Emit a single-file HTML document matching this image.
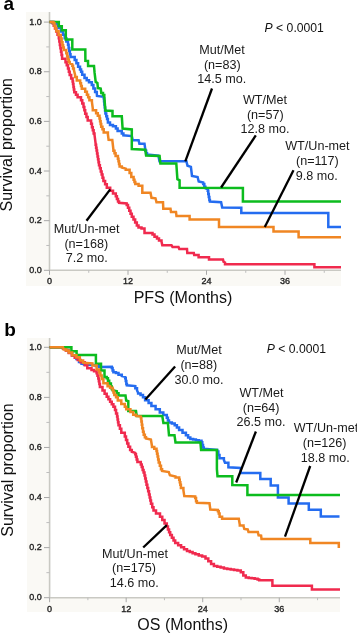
<!DOCTYPE html>
<html><head><meta charset="utf-8"><style>
html,body{margin:0;padding:0;background:#fff;width:357px;height:634px;overflow:hidden}
svg{display:block;font-family:"Liberation Sans", sans-serif;will-change:transform}
</style></head><body>
<svg width="357" height="634" viewBox="0 0 357 634" font-family='"Liberation Sans", sans-serif'>
<rect width="357" height="634" fill="#fff"/>
<path d="M26,12 H49.5 V270.3 H341 V286 H26 Z" fill="#faf9f5"/>
<path d="M49.5,12 V270.3 H341" fill="none" stroke="#c9c9c3" stroke-width="1.6"/>
<path d="M43.9,270.30 H49.5" stroke="#a8a8a8" stroke-width="1"/>
<text x="41.8" y="273.00" text-anchor="end" font-size="9" fill="#222" stroke="#222" stroke-width="0.35">0.0</text>
<path d="M46.3,245.48 H49.5" stroke="#bdbdbd" stroke-width="1"/>
<path d="M43.9,220.66 H49.5" stroke="#a8a8a8" stroke-width="1"/>
<text x="41.8" y="223.36" text-anchor="end" font-size="9" fill="#222" stroke="#222" stroke-width="0.35">0.2</text>
<path d="M46.3,195.84 H49.5" stroke="#bdbdbd" stroke-width="1"/>
<path d="M43.9,171.02 H49.5" stroke="#a8a8a8" stroke-width="1"/>
<text x="41.8" y="173.72" text-anchor="end" font-size="9" fill="#222" stroke="#222" stroke-width="0.35">0.4</text>
<path d="M46.3,146.20 H49.5" stroke="#bdbdbd" stroke-width="1"/>
<path d="M43.9,121.38 H49.5" stroke="#a8a8a8" stroke-width="1"/>
<text x="41.8" y="124.08" text-anchor="end" font-size="9" fill="#222" stroke="#222" stroke-width="0.35">0.6</text>
<path d="M46.3,96.56 H49.5" stroke="#bdbdbd" stroke-width="1"/>
<path d="M43.9,71.74 H49.5" stroke="#a8a8a8" stroke-width="1"/>
<text x="41.8" y="74.44" text-anchor="end" font-size="9" fill="#222" stroke="#222" stroke-width="0.35">0.8</text>
<path d="M46.3,46.92 H49.5" stroke="#bdbdbd" stroke-width="1"/>
<path d="M43.9,22.10 H49.5" stroke="#a8a8a8" stroke-width="1"/>
<text x="41.8" y="24.80" text-anchor="end" font-size="9" fill="#222" stroke="#222" stroke-width="0.35">1.0</text>
<path d="M49.50,270.3 V274.8" stroke="#a8a8a8" stroke-width="1"/>
<text x="49.50" y="284.1" text-anchor="middle" font-size="9" fill="#222" stroke="#222" stroke-width="0.35">0</text>
<path d="M88.75,270.3 V272.8" stroke="#bdbdbd" stroke-width="1"/>
<path d="M128.00,270.3 V274.8" stroke="#a8a8a8" stroke-width="1"/>
<text x="128.00" y="284.1" text-anchor="middle" font-size="9" fill="#222" stroke="#222" stroke-width="0.35">12</text>
<path d="M167.25,270.3 V272.8" stroke="#bdbdbd" stroke-width="1"/>
<path d="M206.50,270.3 V274.8" stroke="#a8a8a8" stroke-width="1"/>
<text x="206.50" y="284.1" text-anchor="middle" font-size="9" fill="#222" stroke="#222" stroke-width="0.35">24</text>
<path d="M245.75,270.3 V272.8" stroke="#bdbdbd" stroke-width="1"/>
<path d="M285.00,270.3 V274.8" stroke="#a8a8a8" stroke-width="1"/>
<text x="285.00" y="284.1" text-anchor="middle" font-size="9" fill="#222" stroke="#222" stroke-width="0.35">36</text>
<path d="M324.25,270.3 V272.8" stroke="#bdbdbd" stroke-width="1"/>
<path d="M49.5,21.9 L52.5,21.9 V23.22 H53.73 V25.85 H54.97 V28.48 H56.20 V29.80 V31.48 H57.50 V34.83 H58.80 V36.50 V38.18 H59.33 V41.55 H59.87 V44.92 H60.40 V46.60 V48.28 H60.97 V51.65 H61.53 V55.02 H62.10 V56.70 V58.80 H65.50 V60.90 V62.35 H66.75 V65.25 H68.00 V66.70 V68.40 H68.85 V71.80 H69.70 V73.50 V75.12 H71.15 V78.38 H72.60 V80.00 V81.38 H73.02 V84.12 H73.45 V86.88 H73.87 V89.62 H74.30 V91.00 V92.25 H75.95 V94.75 H77.60 V96.00 V97.25 H81.00 V98.50 V100.20 H82.25 V103.60 H83.50 V105.30 V106.97 H84.35 V110.32 H85.20 V112.00 V113.67 H86.45 V117.03 H87.70 V118.70 V120.40 H91.10 V122.10 V123.78 H91.95 V127.13 H92.80 V128.80 V130.35 H93.65 V133.45 H94.50 V135.00 L95.6,143.4 V144.84 H96.09 V147.73 H96.57 V150.61 H97.06 V153.50 H97.54 V156.39 H98.03 V159.27 H98.51 V162.16 H99.00 V163.60 V165.17 H99.88 V168.31 H100.76 V171.45 H101.64 V174.59 H102.52 V177.73 H103.40 V179.30 V180.98 H105.10 V184.33 H106.80 V186.00 V187.70 H110.20 V189.40 V190.80 H113.00 V193.60 H115.80 V195.00 V196.30 H116.90 V198.90 H118.00 V201.50 H119.10 V202.80 L126.7,203.4 V204.88 H127.98 V207.82 H129.25 V210.77 H130.53 V213.72 H131.80 V215.20 V216.66 H133.48 V219.59 H135.15 V222.51 H136.83 V225.44 H138.50 V226.90 V227.43 H141.50 V228.48 H144.50 V229.00 L144.5,233 L152.5,233 V234.50 H154.50 V236.00 V236.75 H157.00 V237.50 V238.50 H159.00 V239.50 V240.50 H161.50 V241.50 L162.3,245.3 L171.5,245.3 L172.5,247 L178.5,247 L179.3,249 L187,249 L187.3,253 L193.8,253 L194.2,255.1 L198.6,255.1 L198.6,257.3 L209,257.3 L209,259.6 L223,259.6 L223.6,261.8 L225,262.5 L225,264.3 L314.4,264.3 L314.4,267.3 L341,267.3" fill="none" stroke="#f02a4e" stroke-width="2.5" stroke-linejoin="miter"/>
<path d="M49.5,21.9 L54,21.9 V23.95 H58.00 V26.00 V28.00 H61.00 V30.00 V31.55 H63.00 V33.10 V34.78 H64.67 V38.15 H66.33 V41.52 H68.00 V43.20 V44.78 H68.62 V47.93 H69.25 V51.08 H69.88 V54.23 H70.50 V55.80 V57.05 H74.70 V58.30 V59.97 H76.40 V63.32 H78.10 V65.00 V66.70 H80.00 V68.40 V69.53 H81.10 V71.78 H82.20 V72.90 V74.85 H84.50 V76.80 V77.95 H86.70 V79.10 V80.20 H89.00 V81.30 V82.15 H91.80 V83.00 V84.95 H93.40 V86.90 V88.60 H95.10 V90.30 V92.00 H96.80 V93.70 L97,96 L103.7,96.8 V98.32 H104.04 V101.36 H104.38 V104.40 H104.72 V107.44 H105.06 V110.48 H105.40 V112.00 V113.40 H106.23 V116.20 H107.07 V119.00 H107.90 V120.40 V122.40 H110.00 V124.40 V125.03 H112.95 V126.28 H115.90 V126.90 V128.60 H117.60 V130.30 V131.10 H121.80 V131.90 V133.60 H123.40 V135.30 L131.8,136.1 L132.7,140.3 L138.6,140.3 L139.4,143.7 L144.5,143.7 L145.3,149.6 V150.85 H146.15 V153.35 H147.00 V154.60 L158.4,155.7 L159.5,161.3 L186.4,161.3 L187.5,165.8 L190.9,166.9 L192,175.9 L197.6,177 L198.7,181.5 L203.2,182.6 V184.00 H204.30 V186.80 H205.40 V188.20 L207.7,189.3 V190.84 H208.25 V193.91 H208.80 V196.99 H209.35 V200.06 H209.90 V201.60 L221.1,202.3 L222.2,207.4 L241.3,207.7 L241.3,213 L328.3,213 L328.3,227 L341,227" fill="none" stroke="#246cf0" stroke-width="2.5" stroke-linejoin="miter"/>
<path d="M49.5,21.9 L58.8,21.9 L58.8,26.2 L61.8,26.2 L61.8,30.3 L65.8,30.3 L65.8,39.4 L72.3,39.4 L72.3,49.6 L85.3,49.6 L85.4,60.9 L88,61 L88.1,66 L94,66 L94.6,72.9 L95.7,81.9 L97.4,83 L97.9,88.1 L100.7,88.6 L101.3,92.5 V93.10 H103.00 V93.70 V95.10 H104.30 V96.50 L105.4,110.6 L112.5,110.9 L112.5,116.3 L121.8,116.3 L122.6,128.6 L131.8,129.4 L131.8,149 L145.3,149.8 L146.1,155.5 L159.6,156 L160.4,163.5 L176.3,163.5 L177.4,179.2 L179.6,180.3 L179.6,187.8 L242.9,188 L242.9,201.4 L341,201.4" fill="none" stroke="#0cbc1e" stroke-width="2.5" stroke-linejoin="miter"/>
<path d="M49.5,21.9 L53.5,21.9 V23.17 H54.47 V25.70 H55.43 V28.23 H56.40 V29.50 V31.32 H58.60 V34.97 H60.80 V36.80 V38.60 H61.65 V42.20 H62.50 V44.00 V45.15 H63.15 V47.45 H63.80 V48.60 V50.10 H66.30 V51.60 V53.27 H67.15 V56.62 H68.00 V58.30 V59.57 H68.85 V62.12 H69.70 V63.40 L72.2,64.2 V65.67 H73.05 V68.62 H73.90 V70.10 L75.1,75 V77.10 H76.80 V79.20 V80.45 H80.20 V81.70 V83.17 H81.00 V86.12 H81.80 V87.60 V88.85 H85.20 V90.10 V91.80 H86.90 V93.50 V94.75 H88.15 V97.25 H89.40 V98.50 V100.20 H91.90 V101.90 L92.8,108.6 V110.30 H96.10 V112.00 V113.25 H97.80 V115.75 H99.50 V117.00 V118.40 H100.07 V121.20 H100.63 V124.00 H101.20 V125.40 V126.68 H102.45 V129.23 H103.70 V130.50 V132.50 H107.90 V134.50 L108.6,139.8 L112.3,140 L113.4,149.6 V150.85 H114.50 V153.35 H115.60 V154.60 V156.00 H117.90 V157.40 V158.72 H118.47 V161.35 H119.03 V163.98 H119.60 V165.30 V166.40 H121.80 V167.50 L125.7,168.6 V169.75 H129.60 V170.90 V173.10 H131.30 V175.30 V177.00 H133.60 V178.70 V179.82 H134.45 V182.07 H135.30 V183.20 V184.05 H138.60 V184.90 V185.85 H142.30 V186.80 L142.3,192.8 L150.5,192.8 L151.5,197.8 L155.5,198.3 L156.5,202.2 L163,202.2 L163.3,208.7 L170.5,208.7 L171,212 L176,212 L176.5,216.1 L189.6,216.1 L189.6,219.5 L219,219.5 L219,227 L273.5,227 L273.5,231.5 L298.6,231.5 L298.6,237.2 L341,237.2" fill="none" stroke="#f08623" stroke-width="2.5" stroke-linejoin="miter"/>
<path d="M212,88.5 L185.3,161.3" stroke="#000" stroke-width="2.3"/>
<path d="M255.8,135.4 L221.1,187.5" stroke="#000" stroke-width="2.3"/>
<path d="M293.5,170.3 L264.8,227" stroke="#000" stroke-width="2.3"/>
<path d="M86.5,220.8 L110.2,189.4" stroke="#000" stroke-width="2.3"/>
<text x="222" y="54.2" text-anchor="middle" font-size="12.6" fill="#1a1a1a">Mut/Met</text>
<text x="222.3" y="68.6" text-anchor="middle" font-size="12.6" fill="#1a1a1a">(n=83)</text>
<text x="221.8" y="83.1" text-anchor="middle" font-size="12.6" fill="#1a1a1a">14.5 mo.</text>
<text x="265" y="104" text-anchor="middle" font-size="12.6" fill="#1a1a1a">WT/Met</text>
<text x="265.3" y="118.5" text-anchor="middle" font-size="12.6" fill="#1a1a1a">(n=57)</text>
<text x="265" y="133.2" text-anchor="middle" font-size="12.6" fill="#1a1a1a">12.8 mo.</text>
<text x="317.4" y="149.8" text-anchor="middle" font-size="12.6" fill="#1a1a1a">WT/Un-met</text>
<text x="317.4" y="164.7" text-anchor="middle" font-size="12.6" fill="#1a1a1a">(n=117)</text>
<text x="316.8" y="179.7" text-anchor="middle" font-size="12.6" fill="#1a1a1a">9.8 mo.</text>
<text x="86.7" y="232.6" text-anchor="middle" font-size="12.6" fill="#1a1a1a">Mut/Un-met</text>
<text x="86.3" y="247.5" text-anchor="middle" font-size="12.6" fill="#1a1a1a">(n=168)</text>
<text x="86.8" y="262.2" text-anchor="middle" font-size="12.6" fill="#1a1a1a">7.2 mo.</text>
<text x="264.6" y="32" font-size="12.2" fill="#111"><tspan font-style="italic">P</tspan> &lt; 0.0001</text>
<text x="183" y="302.6" text-anchor="middle" font-size="16" fill="#111">PFS (Months)</text>
<text transform="translate(12.1,144.75) rotate(-90)" x="0" y="0" text-anchor="middle" font-size="16" fill="#111">Survival proportion</text>
<text x="3.5" y="10" font-size="19" font-weight="bold" fill="#000">a</text>
<path d="M27,338 H49.6 V597.7 H340 V612 H27 Z" fill="#faf9f5"/>
<path d="M49.6,338 V597.7 H340" fill="none" stroke="#c9c9c3" stroke-width="1.6"/>
<path d="M44.0,597.70 H49.6" stroke="#a8a8a8" stroke-width="1"/>
<text x="41.8" y="600.40" text-anchor="end" font-size="9" fill="#222" stroke="#222" stroke-width="0.35">0.0</text>
<path d="M46.4,572.66 H49.6" stroke="#bdbdbd" stroke-width="1"/>
<path d="M44.0,547.62 H49.6" stroke="#a8a8a8" stroke-width="1"/>
<text x="41.8" y="550.32" text-anchor="end" font-size="9" fill="#222" stroke="#222" stroke-width="0.35">0.2</text>
<path d="M46.4,522.58 H49.6" stroke="#bdbdbd" stroke-width="1"/>
<path d="M44.0,497.54 H49.6" stroke="#a8a8a8" stroke-width="1"/>
<text x="41.8" y="500.24" text-anchor="end" font-size="9" fill="#222" stroke="#222" stroke-width="0.35">0.4</text>
<path d="M46.4,472.50 H49.6" stroke="#bdbdbd" stroke-width="1"/>
<path d="M44.0,447.46 H49.6" stroke="#a8a8a8" stroke-width="1"/>
<text x="41.8" y="450.16" text-anchor="end" font-size="9" fill="#222" stroke="#222" stroke-width="0.35">0.6</text>
<path d="M46.4,422.42 H49.6" stroke="#bdbdbd" stroke-width="1"/>
<path d="M44.0,397.38 H49.6" stroke="#a8a8a8" stroke-width="1"/>
<text x="41.8" y="400.08" text-anchor="end" font-size="9" fill="#222" stroke="#222" stroke-width="0.35">0.8</text>
<path d="M46.4,372.34 H49.6" stroke="#bdbdbd" stroke-width="1"/>
<path d="M44.0,347.30 H49.6" stroke="#a8a8a8" stroke-width="1"/>
<text x="41.8" y="350.00" text-anchor="end" font-size="9" fill="#222" stroke="#222" stroke-width="0.35">1.0</text>
<path d="M49.60,597.7 V602.2" stroke="#a8a8a8" stroke-width="1"/>
<text x="49.60" y="611.7" text-anchor="middle" font-size="9" fill="#222" stroke="#222" stroke-width="0.35">0</text>
<path d="M87.88,597.7 V600.2" stroke="#bdbdbd" stroke-width="1"/>
<path d="M126.16,597.7 V602.2" stroke="#a8a8a8" stroke-width="1"/>
<text x="126.16" y="611.7" text-anchor="middle" font-size="9" fill="#222" stroke="#222" stroke-width="0.35">12</text>
<path d="M164.44,597.7 V600.2" stroke="#bdbdbd" stroke-width="1"/>
<path d="M202.72,597.7 V602.2" stroke="#a8a8a8" stroke-width="1"/>
<text x="202.72" y="611.7" text-anchor="middle" font-size="9" fill="#222" stroke="#222" stroke-width="0.35">24</text>
<path d="M241.00,597.7 V600.2" stroke="#bdbdbd" stroke-width="1"/>
<path d="M279.28,597.7 V602.2" stroke="#a8a8a8" stroke-width="1"/>
<text x="279.28" y="611.7" text-anchor="middle" font-size="9" fill="#222" stroke="#222" stroke-width="0.35">36</text>
<path d="M317.56,597.7 V600.2" stroke="#bdbdbd" stroke-width="1"/>
<path d="M49.6,347.3 L63,347.3 V348.20 H65.90 V350.00 H68.80 V350.90 V352.60 H72.20 V354.30 V355.65 H76.40 V357.00 V359.00 H79.00 V361.00 V361.90 H81.50 V363.70 H84.00 V364.60 L95.7,365.2 V366.05 H99.10 V366.90 L111.8,366.8 V368.05 H112.60 V370.55 H113.40 V371.80 V372.23 H115.95 V373.08 H118.50 V373.50 V374.75 H121.80 V376.00 L125.2,376.9 V378.30 H125.77 V381.10 H126.33 V383.90 H126.90 V385.30 L135.3,386.1 V388.20 H137.00 V390.30 L138.1,392.8 V393.50 H140.55 V394.90 H143.00 V395.60 V397.35 H145.10 V399.10 V400.15 H148.60 V401.20 V402.95 H151.40 V404.70 V406.10 H155.60 V407.50 V409.25 H159.80 V411.00 V412.40 H163.30 V413.80 V415.05 H166.80 V416.30 V417.70 H167.90 V420.50 H169.00 V421.90 V422.45 H171.85 V423.55 H174.70 V424.10 V425.23 H176.90 V427.48 H179.10 V428.60 V430.00 H182.50 V432.80 H185.90 V434.20 V435.32 H188.10 V437.57 H190.30 V438.70 V438.99 H193.10 V439.56 H195.90 V440.14 H198.70 V440.71 H201.50 V441.00 V442.30 H202.27 V444.90 H203.03 V447.50 H203.80 V448.80 L217.2,449.9 V451.57 H218.35 V454.93 H219.50 V456.60 V458.30 H223.90 V460.00 L225,462.8 L228.4,462.8 L228.4,467.3 L240.7,467.9 L240.7,472.9 L260.3,472.9 L260.3,479 L270.7,479 L270.7,485.5 L277.9,485.5 L277.9,497.4 L288.6,497.4 L288.6,503.5 L308.8,503.5 L308.8,509.8 L320.8,509.8 L320.8,516.6 L339.5,516.6" fill="none" stroke="#246cf0" stroke-width="2.5" stroke-linejoin="miter"/>
<path d="M49.6,347.3 L63,347.3 V348.43 H65.90 V350.68 H68.80 V351.80 V353.05 H71.75 V355.55 H74.70 V356.80 V357.85 H77.65 V359.95 H80.60 V361.00 V362.25 H84.80 V363.50 V365.20 H87.30 V366.90 V368.15 H91.50 V369.40 V370.02 H94.05 V371.27 H96.60 V371.90 V373.17 H97.45 V375.72 H98.30 V377.00 V378.40 H98.83 V381.20 H99.37 V384.00 H99.90 V385.40 V387.05 H102.50 V388.70 V390.38 H104.60 V393.73 H106.70 V395.40 V396.65 H108.40 V399.15 H110.10 V400.40 V401.67 H111.75 V404.22 H113.40 V405.50 V406.85 H115.00 V408.20 V409.95 H116.05 V413.45 H117.10 V415.20 V416.60 H117.57 V419.40 H118.03 V422.20 H118.50 V423.60 V425.35 H119.90 V428.85 H121.30 V430.60 V432.70 H124.80 V434.80 V436.52 H126.00 V439.95 H127.20 V443.38 H128.40 V445.10 V446.78 H130.10 V450.12 H131.80 V451.80 L135.2,452.9 V454.22 H135.93 V456.85 H136.67 V459.48 H137.40 V460.80 V461.90 H140.80 V463.00 V464.38 H141.73 V467.12 H142.65 V469.88 H143.58 V472.62 H144.50 V474.00 V475.50 H145.17 V478.50 H145.83 V481.50 H146.50 V483.00 V484.67 H147.33 V488.00 H148.17 V491.33 H149.00 V493.00 V494.50 H149.67 V497.50 H150.33 V500.50 H151.00 V502.00 V503.75 H152.25 V507.25 H153.50 V509.00 V510.50 H156.00 V512.00 V513.50 H160.00 V515.00 V516.70 H162.27 V520.10 H164.53 V523.50 H166.80 V525.20 V526.60 H167.93 V529.40 H169.07 V532.20 H170.20 V533.60 V535.00 H171.87 V537.80 H173.53 V540.60 H175.20 V542.00 V543.05 H178.15 V545.15 H181.10 V547.25 H184.05 V549.35 H187.00 V550.40 V550.97 H189.80 V552.10 H192.60 V553.23 H195.40 V553.80 V554.35 H198.77 V555.45 H202.13 V556.55 H205.50 V557.10 V558.50 H208.30 V561.30 H211.10 V564.10 H213.90 V565.50 V565.92 H217.25 V566.77 H220.60 V567.62 H223.95 V568.48 H227.30 V568.90 V569.11 H230.68 V569.54 H234.05 V569.96 H237.43 V570.39 H240.80 V570.60 V572.27 H243.30 V575.62 H245.80 V577.30 V577.51 H248.75 V577.94 H251.70 V578.36 H254.65 V578.79 H257.60 V579.00 V579.60 H259.20 V580.20 L272.4,580.2 L272.4,585.8 L311.9,585.8 L311.9,589.5 L340,589.5" fill="none" stroke="#f02a4e" stroke-width="2.5" stroke-linejoin="miter"/>
<path d="M49.6,347.3 L71.4,347.3 L71.4,351.2 L76.6,351.2 L76.6,355.1 L95.9,355.1 L95.9,363.8 L101,363.8 L101,370.6 L104.5,370.6 L104.5,377 L106.7,377 V378.23 H107.95 V380.68 H109.20 V381.90 V383.60 H110.90 V385.30 V386.55 H111.75 V389.05 H112.60 V390.30 L116.8,391.2 V393.35 H118.50 V395.50 L125.5,395.6 L126.2,400.5 L128.3,401.2 L128.3,411 L136,411 L136.7,415.9 L162.3,416.1 L163.4,423 L167.9,423 L169,435.3 L174.5,435.3 L175.5,442.5 L200.4,442.5 L201.1,450 L216.9,450 L216.9,469.1 L217.5,476.3 L232.3,476.3 L232.3,485.1 L247.4,485.3 L247.4,494.9 L340,494.9" fill="none" stroke="#0cbc1e" stroke-width="2.5" stroke-linejoin="miter"/>
<path d="M49.6,347.3 L63,347.3 L63.8,349.2 V349.62 H66.30 V350.48 H68.80 V350.90 V352.60 H72.20 V354.30 V355.15 H76.40 V356.00 V357.25 H79.80 V358.50 V360.60 H83.10 V362.70 L92.4,363.5 V365.60 H96.60 V367.70 V369.40 H99.10 V371.10 V372.55 H100.40 V375.45 H101.70 V376.90 V379.00 H103.40 V381.10 V383.20 H107.60 V385.30 V386.15 H110.10 V387.85 H112.60 V388.70 V389.95 H113.45 V392.45 H114.30 V393.70 V394.88 H116.05 V397.23 H117.80 V398.40 V400.50 H121.30 V402.60 V404.00 H124.80 V405.40 V406.80 H126.20 V408.20 V409.25 H130.40 V410.30 V412.05 H133.20 V413.80 V414.85 H136.00 V415.90 L140.9,416.6 V418.23 H141.37 V421.50 H141.83 V424.77 H142.30 V426.40 V428.15 H143.00 V431.65 H143.70 V433.40 V434.65 H144.85 V437.15 H146.00 V438.40 L150.9,439.5 L152,446.2 V447.05 H154.25 V448.75 H156.50 V449.60 V451.00 H157.05 V453.80 H157.60 V456.60 H158.15 V459.40 H158.70 V460.80 V462.48 H159.83 V465.85 H160.97 V469.22 H162.10 V470.90 L168.8,472 L169.9,475.3 L175.5,476.5 V477.45 H179.20 V478.40 V479.67 H179.77 V482.20 H180.33 V484.73 H180.90 V486.00 V488.10 H183.40 V490.20 L184.3,496.1 L195.2,496.4 V498.00 H196.05 V501.20 H196.90 V502.80 L209.5,503.3 L210.3,509.5 L217.9,510 V511.15 H218.75 V513.45 H219.60 V514.60 V516.70 H222.10 V518.80 L238.8,518.8 L239.8,524.9 V525.50 H243.50 V526.10 L244.3,528.9 L247.7,529.4 L248.5,531.9 L257.8,531.9 L258.6,535.3 L261.1,535.6 L261.5,539 L310.3,539 L310.3,543 L338.8,543 L338.8,547.9" fill="none" stroke="#f08623" stroke-width="2.5" stroke-linejoin="miter"/>
<path d="M175.1,366.4 L145.4,399.6" stroke="#000" stroke-width="2.3"/>
<path d="M255.9,431.5 L236.2,482.5" stroke="#000" stroke-width="2.3"/>
<path d="M310.2,466 L285,536.7" stroke="#000" stroke-width="2.3"/>
<path d="M143.2,547.5 L166.8,525.2" stroke="#000" stroke-width="2.3"/>
<text x="199.1" y="354" text-anchor="middle" font-size="12.6" fill="#1a1a1a">Mut/Met</text>
<text x="198.8" y="369.1" text-anchor="middle" font-size="12.6" fill="#1a1a1a">(n=88)</text>
<text x="199" y="383.9" text-anchor="middle" font-size="12.6" fill="#1a1a1a">30.0 mo.</text>
<text x="261.5" y="396.9" text-anchor="middle" font-size="12.6" fill="#1a1a1a">WT/Met</text>
<text x="261.2" y="411.6" text-anchor="middle" font-size="12.6" fill="#1a1a1a">(n=64)</text>
<text x="260.9" y="426" text-anchor="middle" font-size="12.6" fill="#1a1a1a">26.5 mo.</text>
<text x="326" y="432" text-anchor="middle" font-size="12.6" fill="#1a1a1a">WT/Un-met</text>
<text x="324.6" y="447" text-anchor="middle" font-size="12.6" fill="#1a1a1a">(n=126)</text>
<text x="325.2" y="461.5" text-anchor="middle" font-size="12.6" fill="#1a1a1a">18.8 mo.</text>
<text x="135" y="557.6" text-anchor="middle" font-size="12.6" fill="#1a1a1a">Mut/Un-met</text>
<text x="134" y="572.1" text-anchor="middle" font-size="12.6" fill="#1a1a1a">(n=175)</text>
<text x="134.2" y="586.7" text-anchor="middle" font-size="12.6" fill="#1a1a1a">14.6 mo.</text>
<text x="266.7" y="352.9" font-size="12.2" fill="#111"><tspan font-style="italic">P</tspan> &lt; 0.0001</text>
<text x="182.7" y="630.3" text-anchor="middle" font-size="16" fill="#111">OS (Months)</text>
<text transform="translate(12.5,470) rotate(-90)" x="0" y="0" text-anchor="middle" font-size="16" fill="#111">Survival proportion</text>
<text x="4.2" y="336" font-size="19" font-weight="bold" fill="#000">b</text>
</svg>
</body></html>
